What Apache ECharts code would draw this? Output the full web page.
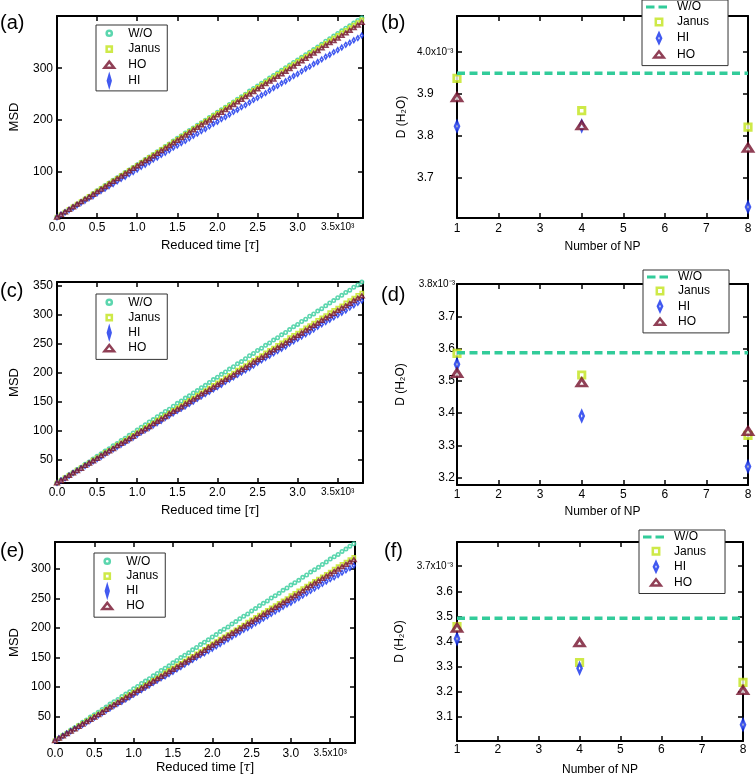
<!DOCTYPE html>
<html><head><meta charset="utf-8">
<script src="https://cdn.jsdelivr.net/npm/echarts@6/dist/echarts.min.js"></script>
<style>html,body{margin:0;padding:0;background:#fff}#c{width:756px;height:777px}</style>
</head><body><div id="c"></div>
<script>
// ---------------- data ----------------
const msdTime = [0,50,100,150,200,250,300,350,400,450,500,550,600,650,700,750,800,850,900,950,1000,1050,1100,1150,1200,1250,1300,1350,1400,1450,1500,1550,1600,1650,1700,1750,1800,1850,1900,1950,2000,2050,2100,2150,2200,2250,2300,2350,2400,2450,2500,2550,2600,2650,2700,2750,2800,2850,2900,2950,3000,3050,3100,3150,3200,3250,3300,3350,3400,3450,3500,3550,3600,3650,3700,3750,3800];

const msdA_WO = [13,18,23,28,33,38,43,48,53,58,64,69,74,79,84,89,94,99,104,109,114,119,124,129,134,139,144,149,154,160,165,170,175,180,185,190,195,200,205,210,215,220,225,230,235,240,245,250,256,261,266,271,276,281,286,291,296,301,306,311,316,321,326,331,336,341,346,352,357,362,367,372,377,382,387,392,397];
const msdA_Janus = [13,18,23,28,33,38,43,48,53,58,63,68,73,78,83,88,93,98,103,108,113,118,123,128,133,138,143,148,153,158,163,168,173,178,183,188,193,198,203,208,213,218,223,228,233,238,243,248,253,258,263,268,273,278,283,288,293,298,303,308,313,318,323,328,333,338,343,348,353,358,363,368,373,378,383,388,393];
const msdA_HO = [13,18,23,28,33,38,43,48,52,57,62,67,72,77,82,87,92,97,102,107,112,117,122,126,131,136,141,146,151,156,161,166,171,176,181,186,191,196,200,205,210,215,220,225,230,235,240,245,250,255,260,265,270,275,279,284,289,294,299,304,309,314,319,324,329,334,339,344,349,353,358,363,368,373,378,383,388];
const msdA_HI = [13,18,22,27,31,36,41,45,50,54,59,64,68,73,77,82,87,91,96,100,105,110,114,119,124,128,133,137,142,147,151,156,160,165,170,174,179,183,188,193,197,202,206,211,216,220,225,229,234,239,243,248,252,257,262,266,271,275,280,285,289,294,299,303,308,312,317,322,326,331,335,340,345,349,354,358,363];

const msdC_WO = [10,15,19,24,28,33,37,42,46,51,56,60,65,69,74,78,83,87,92,96,101,106,110,115,119,124,128,133,137,142,147,151,156,160,165,169,174,178,183,188,192,197,201,206,210,215,219,224,229,233,238,242,247,251,256,260,265,269,274,279,283,288,292,297,301,306,310,315,320,324,329,333,338,342,347,351,356];
const msdC_Janus = [10,14,19,23,27,32,36,40,44,49,53,57,62,66,70,75,79,83,87,92,96,100,105,109,113,118,122,126,130,135,139,143,148,152,156,161,165,169,173,178,182,186,191,195,199,204,208,212,217,221,225,229,234,238,242,247,251,255,260,264,268,272,277,281,285,290,294,298,303,307,311,315,320,324,328,333,337];
const msdC_HO = [10,14,18,23,27,31,35,40,44,48,52,57,61,65,69,74,78,82,86,90,95,99,103,107,112,116,120,124,129,133,137,141,146,150,154,158,163,167,171,175,179,184,188,192,196,201,205,209,213,218,222,226,230,235,239,243,247,251,256,260,264,268,273,277,281,285,290,294,298,302,307,311,315,319,324,328,332];
const msdC_HI = [10,14,18,22,27,31,35,39,43,47,51,55,60,64,68,72,76,80,84,88,93,97,101,105,109,113,117,122,126,130,134,138,142,146,150,155,159,163,167,171,175,179,184,188,192,196,200,204,208,212,217,221,225,229,233,237,241,245,250,254,258,262,266,270,274,279,283,287,291,295,299,303,307,312,316,320,324];

const msdE_WO = [9,13,18,22,27,31,35,40,44,49,53,57,62,66,71,75,79,84,88,92,97,101,106,110,114,119,123,128,132,136,141,145,150,154,158,163,167,172,176,180,185,189,194,198,202,207,211,216,220,224,229,233,238,242,246,251,255,259,264,268,273,277,281,286,290,295,299,303,308,312,317,321,325,330,334,339,343];
const msdE_Janus = [9,13,17,21,25,29,34,38,42,46,50,54,58,62,66,70,74,79,83,87,91,95,99,103,107,111,115,119,124,128,132,136,140,144,148,152,156,160,164,169,173,177,181,185,189,193,197,201,205,210,214,218,222,226,230,234,238,242,246,250,255,259,263,267,271,275,279,283,287,291,295,300,304,308,312,316,320];
const msdE_HO = [9,13,17,21,25,29,33,37,41,45,49,53,57,62,66,70,74,78,82,86,90,94,98,102,106,110,114,118,122,126,130,134,138,142,146,150,154,158,162,167,171,175,179,183,187,191,195,199,203,207,211,215,219,223,227,231,235,239,243,247,251,255,259,263,268,272,276,280,284,288,292,296,300,304,308,312,316];
const msdE_HI = [9,13,17,21,25,29,32,36,40,44,48,52,56,60,64,68,72,75,79,83,87,91,95,99,103,107,111,115,118,122,126,130,134,138,142,146,150,154,157,161,165,169,173,177,181,185,189,193,197,200,204,208,212,216,220,224,228,232,236,240,243,247,251,255,259,263,267,271,275,279,283,286,290,294,298,302,306];

const npCount = [1, 4, 8];
const dWO = [3.949, 3.587, 3.493];           // panels b, d, f (x10^-3)
const dB_Janus = [3.937, 3.860, 3.821];
const dB_HI    = [3.823, 3.824, 3.631];
const dB_HO    = [3.892, 3.825, 3.772];
const dD_Janus = [3.585, 3.518, 3.331];
const dD_HI    = [3.551, 3.391, 3.234];
const dD_HO    = [3.524, 3.495, 3.344];
const dF_Janus = [3.460, 3.317, 3.238];
const dF_HI    = [3.411, 3.294, 3.070];
const dF_HO    = [3.455, 3.397, 3.207];

const msdXTicks = [0, 500, 1000, 1500, 2000, 2500, 3000, 3500];
const msdYTicksA = [100, 200, 300];
const msdYTicksC = [50, 100, 150, 200, 250, 300, 350];
const msdYTicksE = [50, 100, 150, 200, 250, 300];
const npTicks = [1, 2, 3, 4, 5, 6, 7, 8];
const dYTicksB = [3.7, 3.8, 3.9, 4.0];
const dYTicksD = [3.2, 3.3, 3.4, 3.5, 3.6, 3.7, 3.8];
const dYTicksF = [3.1, 3.2, 3.3, 3.4, 3.5, 3.6, 3.7];

// ---------------- style ----------------
const FF = "'Liberation Sans', Arial, sans-serif";
const BLACK = '#000';
const C_WO = '#32CC9A', C_J = '#C2E41A', C_HO = '#74102C', C_HI = '#1230EC';

const xAxes = [], yAxes = [];
function frameAxes(c) {
  const line = {show: true, onZero: false, lineStyle: {color: BLACK, width: 2}};
  const tick = v => ({show: true, inside: true, length: 5, lineStyle: {color: BLACK, width: 1.5}, customValues: v});
  const rich = {s: {fontSize: 10, fontFamily: FF, color: BLACK}};
  const lbl = (v, f, m, extra) => Object.assign({show: true, customValues: v, formatter: f, margin: m, color: BLACK, fontSize: 12, fontFamily: FF, rich}, extra || {});
  const nts = fs => ({color: BLACK, fontSize: fs, fontFamily: FF, rich: {i: {fontSize: fs, fontFamily: 'DejaVu Serif', fontStyle: 'italic', color: BLACK}}});
  xAxes.push({gridIndex: c.gi, type: 'value', position: 'bottom', min: c.xr[0], max: c.xr[1],
    axisLine: line, axisTick: tick(c.xt), axisLabel: lbl(c.xt, c.xf, c.xm), splitLine: {show: false},
    name: c.xn, nameLocation: 'middle', nameGap: c.xg, nameTextStyle: nts(c.xnfs)});
  xAxes.push({gridIndex: c.gi, type: 'value', position: 'top', min: c.xr[0], max: c.xr[1],
    axisLine: line, axisTick: tick(c.xt), axisLabel: {show: false}, splitLine: {show: false}});
  yAxes.push({gridIndex: c.gi, type: 'value', position: 'left', min: c.yr[0], max: c.yr[1],
    axisLine: line, axisTick: tick(c.yt), axisLabel: lbl(c.yt, c.yf, c.ym, c.yextra), splitLine: {show: false},
    name: c.yn, nameLocation: 'middle', nameGap: c.yg, nameTextStyle: nts(c.ynfs)});
  yAxes.push({gridIndex: c.gi, type: 'value', position: 'right', min: c.yr[0], max: c.yr[1],
    axisLine: line, axisTick: tick(c.yt), axisLabel: {show: false}, splitLine: {show: false}});
}

const msdXFmt = v => v === 3500 ? '{s|3.5x10³}' : (v / 1000).toFixed(1);
const intFmt = v => String(v);
const dFmt = top => v => Math.abs(v - top) < 1e-9 ? '{s|' + v.toFixed(1) + 'x10⁻³}' : v.toFixed(1);
const npFmt = v => String(v);

// grids: a, b, c, d, e, f
const grids = [
  {left: 57, top: 16, width: 306, height: 202},
  {left: 457, top: 16, width: 291, height: 202},
  {left: 57, top: 282, width: 306, height: 201},
  {left: 457, top: 284, width: 291, height: 201},
  {left: 55, top: 542, width: 300, height: 201},
  {left: 457, top: 542, width: 286, height: 200}
];

const timeName = 'Reduced time [{i|τ}]';
frameAxes({gi: 0, xr: [0, 3815], yr: [11.5, 400.6], xt: msdXTicks, yt: msdYTicksA, xf: msdXFmt, yf: intFmt, xm: 4, ym: 4,
  xn: timeName, xg: 21, xnfs: 13, yn: 'MSD', yg: 36, ynfs: 13});
frameAxes({gi: 1, xr: [1, 8], yr: [3.605, 4.085], xt: npTicks, yt: dYTicksB, xf: npFmt, yf: dFmt(4.0), xm: 5, ym: 40,
  yextra: {align: 'left'}, xn: 'Number of NP', xg: 23, xnfs: 12, yn: 'D (H₂O)', yg: 49, ynfs: 12});
frameAxes({gi: 2, xr: [0, 3815], yr: [9.8, 356], xt: msdXTicks, yt: msdYTicksC, xf: msdXFmt, yf: intFmt, xm: 4, ym: 4,
  xn: timeName, xg: 21, xnfs: 13, yn: 'MSD', yg: 36, ynfs: 13});
frameAxes({gi: 3, xr: [1, 8], yr: [3.177, 3.8], xt: npTicks, yt: dYTicksD, xf: npFmt, yf: dFmt(3.8), xm: 4, ym: 2,
  xn: 'Number of NP', xg: 21, xnfs: 12, yn: 'D (H₂O)', yg: 50, ynfs: 12});
frameAxes({gi: 4, xr: [0, 3815], yr: [5, 346], xt: msdXTicks, yt: msdYTicksE, xf: msdXFmt, yf: intFmt, xm: 5, ym: 4,
  xn: timeName, xg: 17, xnfs: 13, yn: 'MSD', yg: 34, ynfs: 13});
frameAxes({gi: 5, xr: [1, 8], yr: [3.005, 3.796], xt: npTicks, yt: dYTicksF, xf: npFmt, yf: dFmt(3.7), xm: 3, ym: 4,
  xn: 'Number of NP', xg: 23, xnfs: 12, yn: 'D (H₂O)', yg: 51, ynfs: 12});

// ---------------- series ----------------
const series = [];
function msdSeries(gi, wo, ja, hi, ho) {
  const ix = 2 * gi;
  const mk = (name, vals, symbol, size, color, bw) => ({
    name, type: 'scatter', xAxisIndex: ix, yAxisIndex: ix, clip: false, silent: true,
    data: msdTime.map((t, i) => [t, vals[i]]), symbol, symbolSize: size,
    itemStyle: {color: '#fff', borderColor: color, borderWidth: bw}, emphasis: {disabled: true}
  });
  series.push(mk('W/O|m', wo, 'circle', 3.4, C_WO, 1.6));
  series.push(mk('Janus|m', ja, 'rect', 3.2, C_J, 1.6));
  series.push(mk('HI|m', hi, 'diamond', [3, 4.6], C_HI, 1.6));
  series.push(mk('HO|m', ho, 'triangle', [4.4, 3.6], C_HO, 1.7));
}
function dSeries(gi, k, ja, hi, ho) {
  const ix = 2 * gi;
  series.push({name: 'W/O|d', type: 'line', xAxisIndex: ix, yAxisIndex: ix, silent: true, symbol: 'none',
    data: [[npCount[0], dWO[k]], [npCount[npCount.length - 1], dWO[k]]],
    lineStyle: {color: C_WO, width: 3.5, type: [8, 4.5]}, itemStyle: {color: C_WO}});
  const mk = (name, vals, symbol, size, color) => ({
    name, type: 'scatter', xAxisIndex: ix, yAxisIndex: ix, clip: false, silent: true,
    data: npCount.map((n, i) => [n, vals[i]]), symbol, symbolSize: size,
    itemStyle: {color: '#fff', borderColor: color, borderWidth: 2.8}, emphasis: {disabled: true}
  });
  series.push(mk('Janus|d', ja, 'rect', 6.4, C_J));
  series.push(mk('HI|d', hi, 'diamond', [4.2, 9.6], C_HI));
  series.push(mk('HO|d', ho, 'triangle', [9.6, 7.4], C_HO));
}
msdSeries(0, msdA_WO, msdA_Janus, msdA_HI, msdA_HO);
dSeries(1, 0, dB_Janus, dB_HI, dB_HO);
msdSeries(2, msdC_WO, msdC_Janus, msdC_HI, msdC_HO);
dSeries(3, 1, dD_Janus, dD_HI, dD_HO);
msdSeries(4, msdE_WO, msdE_Janus, msdE_HI, msdE_HO);
dSeries(5, 2, dF_Janus, dF_HI, dF_HO);

// ---------------- legends ----------------
const FRAME = 'M0,0L0,0M14,14L14,14';
const FRAME_W = 'M0,0L0,0M26,14L26,14';
const icM = {
  'W/O|m': 'path://' + FRAME + 'M4.4,7A2.6,2.6,0,1,1,9.6,7A2.6,2.6,0,1,1,4.4,7Z',
  'Janus|m': 'path://' + FRAME + 'M4.4,4.4L9.6,4.4L9.6,9.6L4.4,9.6Z',
  'HO|m': 'path://' + FRAME + 'M2.2,10L7,3.8L11.8,10Z',
  'HI|m': 'path://' + FRAME + 'M7,2.2L8.4,7L7,11.8L5.6,7Z'
};
const icD = {
  'W/O|d': 'path://' + FRAME_W + 'M0,5.4L8.5,5.4L8.5,8.6L0,8.6ZM12.5,5.4L21,5.4L21,8.6L12.5,8.6Z',
  'Janus|d': 'path://' + FRAME + 'M3.8,3.8L10.2,3.8L10.2,10.2L3.8,10.2Z',
  'HI|d': 'path://' + FRAME + 'M7,2.4L9.1,7L7,11.6L4.9,7Z',
  'HO|d': 'path://' + FRAME + 'M2.2,10.2L7,4L11.8,10.2Z'
};
function mkLegend(names, icons, left, top, pad, gap, iw) {
  return {
    orient: 'vertical', left, top, padding: pad, itemGap: gap, itemWidth: iw, itemHeight: 14,
    symbolKeepAspect: true, selectedMode: false, z: 10,
    data: names.map(n => n.indexOf('W/O|d') === 0
      ? {name: n, icon: icons[n], itemStyle: {borderWidth: 0}}
      : {name: n, icon: icons[n]}),
    formatter: n => n.split('|')[0],
    textStyle: {color: BLACK, fontSize: 12, fontFamily: FF, lineHeight: 14},
    backgroundColor: '#fff', borderColor: '#333', borderWidth: 1, borderRadius: 0,
    itemStyle: {borderWidth: 2.5}
  };
}
const legends = [
  mkLegend(['W/O|m', 'Janus|m', 'HO|m', 'HI|m'], icM, 96, 25, [0, 7, 2, 5], -0.7, 28),
  mkLegend(['W/O|d', 'Janus|d', 'HI|d', 'HO|d'], icD, 642, 0, [0, 19, 3, 4], -0.3, 26),
  mkLegend(['W/O|m', 'Janus|m', 'HI|m', 'HO|m'], icM, 96, 294, [0, 7, 3, 5], -1.2, 28),
  mkLegend(['W/O|d', 'Janus|d', 'HI|d', 'HO|d'], icD, 643, 270, [0, 19, 3, 4], -1.2, 26),
  mkLegend(['W/O|m', 'Janus|m', 'HI|m', 'HO|m'], icM, 94, 553, [0, 7, 3, 5], -1.6, 28),
  mkLegend(['W/O|d', 'Janus|d', 'HI|d', 'HO|d'], icD, 639, 530, [0, 19, 3, 4], -1.0, 26)
];

// ---------------- panel labels ----------------
const panelLabels = ['(a)', '(b)', '(c)', '(d)', '(e)', '(f)'];
const labelPos = [[0, 13], [381, 13], [0, 281], [381, 285], [0, 541], [384, 541]];
const titles = panelLabels.map((t, i) => ({text: t, left: labelPos[i][0], top: labelPos[i][1], padding: 0,
  textStyle: {fontSize: 20, fontWeight: 'normal', fontFamily: FF, color: BLACK}}));

const chart = echarts.init(document.getElementById('c'), null, {renderer: 'canvas'});
chart.setOption({
  animation: false,
  backgroundColor: '#fff',
  title: titles,
  grid: grids,
  xAxis: xAxes,
  yAxis: yAxes,
  legend: legends,
  series
});
</script>
</body></html>
